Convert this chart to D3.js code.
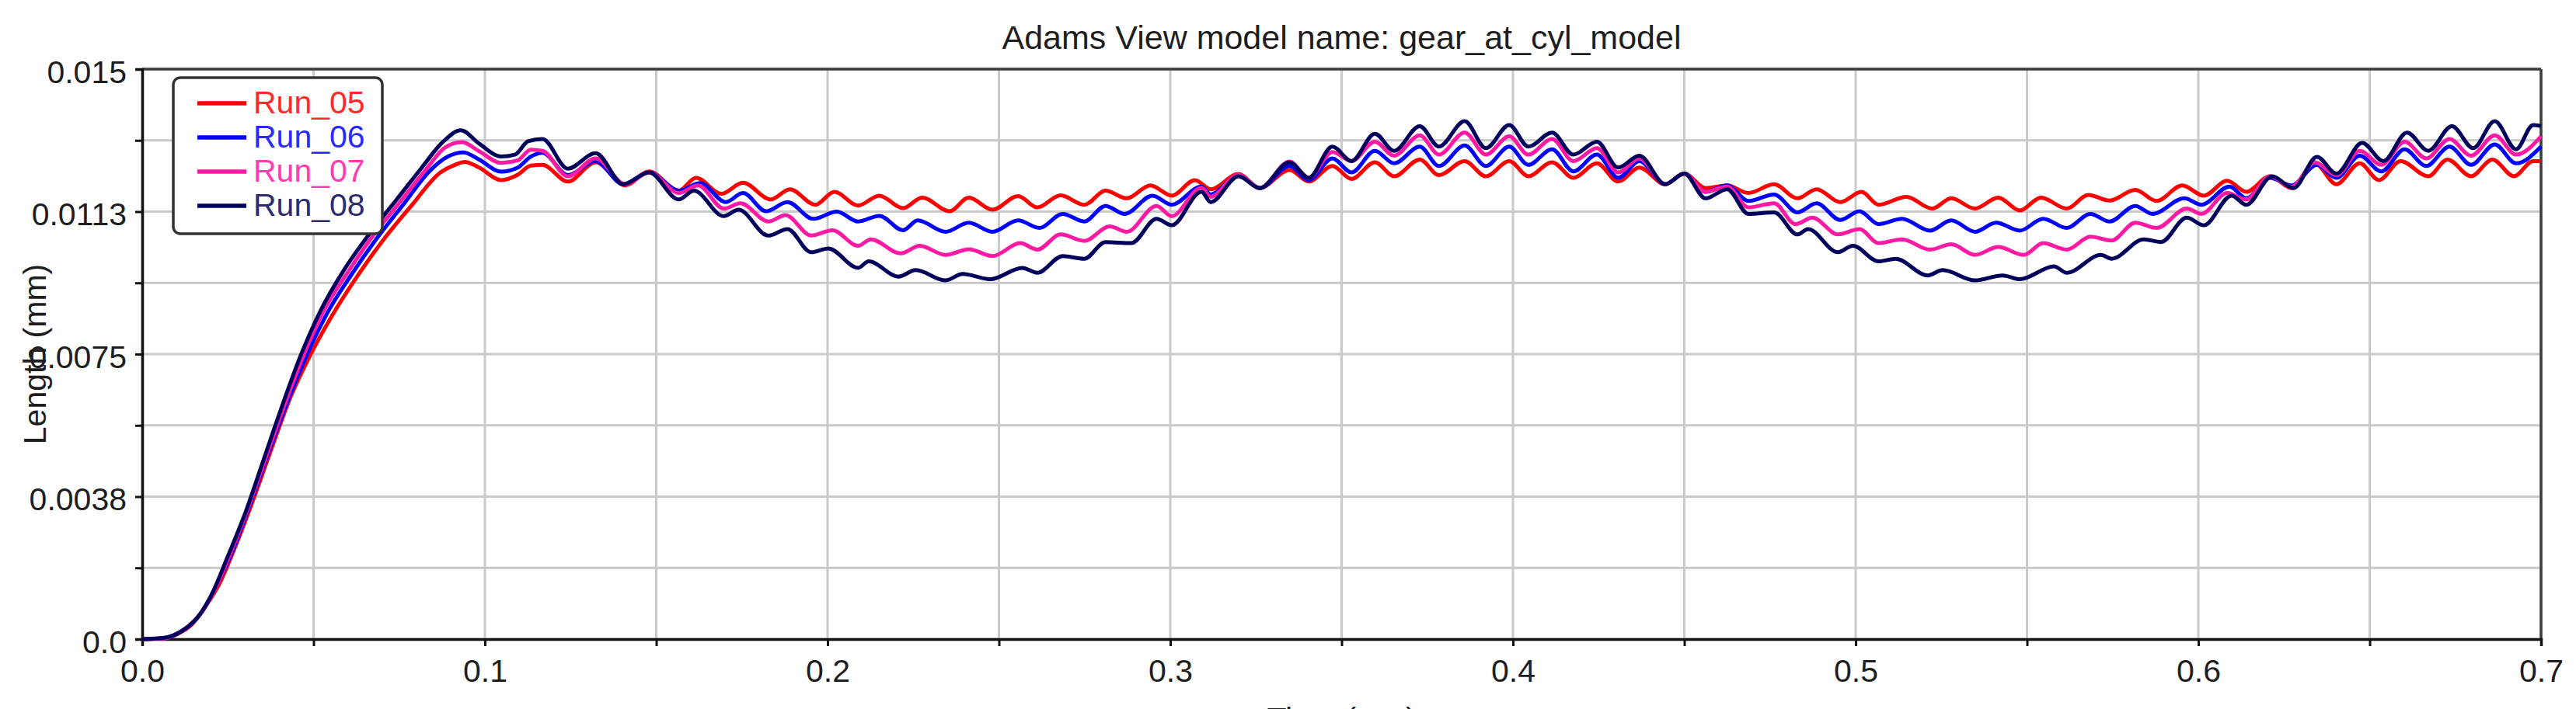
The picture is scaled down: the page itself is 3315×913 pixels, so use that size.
<!DOCTYPE html>
<html>
<head>
<meta charset="utf-8">
<script src="https://cdn.jsdelivr.net/npm/d3@7"></script>
<style>
  html, body { margin: 0; padding: 0; background: #ffffff; }
  svg { display: block; }
  text { font-family: "Liberation Sans", Arial, Helvetica, sans-serif; }
</style>
</head>
<body>
<svg id="chart" width="3315" height="913"></svg>
<script>
// ---------------- DATA ----------------
const chartTitle = "Adams View model name: gear_at_cyl_model";
const xTitle = "Time (sec)";
const yTitle = "Length (mm)";

const seriesNames = ["Run_05", "Run_06", "Run_07", "Run_08"];
const seriesColors = ["#ff0000", "#0000ff", "#ff1aa3", "#00005c"];
const legendTextColors = ["#ff2a2a", "#2a2aff", "#ff3cb0", "#2c2c6e"];

const xTickValues = [0.0, 0.1, 0.2, 0.3, 0.4, 0.5, 0.6, 0.7];
const xTickLabels = ["0.0", "0.1", "0.2", "0.3", "0.4", "0.5", "0.6", "0.7"];
const xGridValues = [0, 0.05, 0.1, 0.15, 0.2, 0.25, 0.3, 0.35, 0.4, 0.45, 0.5, 0.55, 0.6, 0.65, 0.7];
const yTickValues = [0.0, 0.00375, 0.0075, 0.01125, 0.015];
const yTickLabels = ["0.0", "0.0038", "0.0075", "0.0113", "0.015"];
const yGridValues = [0, 0.001875, 0.00375, 0.005625, 0.0075, 0.009375, 0.01125, 0.013125, 0.015];

// [time (sec), length (mm)]
const run05 = [
  [0,0],[0.0068,0.00002],[0.0106,0.00015],[0.0144,0.00038],[0.0181,0.00081],[0.0227,0.00149],[0.0272,0.00244],
  [0.0325,0.00369],[0.0378,0.00503],[0.0431,0.00633],[0.0488,0.00743],[0.0552,0.00848],[0.0627,0.00954],
  [0.0703,0.0105],[0.0786,0.01141],[0.0869,0.01227],[0.0915,0.01249],[0.0941,0.01256],[0.0983,0.01241],
  [0.1047,0.01208],[0.1096,0.01222],[0.1134,0.01246],[0.1168,0.01248],
  [0.1242,0.01204],[0.1323,0.01255],[0.1410,0.01194],[0.1479,0.01231],[0.1566,0.0118],[0.1616,0.01214],
  [0.1690,0.01172],[0.1753,0.01201],[0.1834,0.01157],[0.1890,0.01184],[0.1964,0.01143],[0.2020,0.01177],
  [0.2089,0.01141],[0.2151,0.01167],[0.2220,0.01134],[0.2276,0.01162],[0.2356,0.01126],[0.2412,0.01162],
  [0.2481,0.0113],[0.2556,0.01166],[0.2612,0.01136],[0.2680,0.01168],[0.2749,0.01143],[0.2811,0.0118],
  [0.2873,0.0116],[0.2942,0.01194],[0.3004,0.01167],[0.3072,0.01208],
  [0.3118,0.01184],[0.3199,0.01224],[0.3261,0.01187],[0.3348,0.01235],[0.3404,0.01204],[0.3473,0.01245],
  [0.3529,0.01211],[0.3597,0.01255],[0.3653,0.01218],[0.3728,0.01262],[0.3784,0.01221],[0.3859,0.01258],
  [0.3921,0.01218],[0.3989,0.01258],[0.4045,0.01218],[0.4114,0.01255],[0.4176,0.01214],[0.4245,0.01252],
  [0.4307,0.01204],[0.4369,0.01241],[0.4444,0.01197],[0.4500,0.01225],[0.4562,0.01187],[0.4625,0.01194],
  [0.4687,0.01174],[0.4762,0.01197],[0.4830,0.0116],[0.4886,0.01184],[0.4955,0.0115],[0.5017,0.01177],
  [0.5067,0.01143],[0.5148,0.01164],[0.5223,0.01133],[0.5279,0.0116],[0.5348,0.01133],[0.5416,0.01162],
  [0.5479,0.01128],[0.5541,0.01162],[0.5616,0.01133],[0.5679,0.01169],[0.5741,0.01154],[0.5816,0.01182],
  [0.5878,0.01153],[0.5953,0.01194],[0.6016,0.01167],[0.6084,0.01206],[0.6140,0.01177],[0.6209,0.01218],
  [0.6272,0.01187],[0.6340,0.01252],[0.6403,0.01197],[0.6471,0.01252],[0.6527,0.01208],[0.6590,0.01258],
  [0.6671,0.01218],[0.6727,0.01262],[0.6796,0.01218],[0.6858,0.01262],[0.6921,0.01218],[0.6977,0.01258],
  [0.7,0.01258]
];

const run06 = [
  [0,0],[0.0064,0.00002],[0.0098,0.00012],[0.0136,0.00034],[0.0174,0.00072],[0.0219,0.00144],[0.0265,0.00235],
  [0.0317,0.0036],[0.037,0.00494],[0.0423,0.00623],[0.0478,0.00743],[0.054,0.00858],[0.0612,0.00961],
  [0.0684,0.01054],[0.0763,0.01145],[0.0839,0.01232],[0.0892,0.0127],[0.0937,0.01281],[0.0983,0.01262],
  [0.1047,0.0123],[0.1096,0.01241],[0.1134,0.0127],[0.1168,0.0128],
  [0.1242,0.01221],[0.1323,0.01258],[0.1404,0.01197],[0.1479,0.01228],[0.1566,0.0118],[0.1628,0.012],
  [0.1703,0.0115],[0.1753,0.01174],[0.1821,0.01126],[0.1883,0.0115],[0.1958,0.01106],[0.2027,0.01125],
  [0.2089,0.01099],[0.2151,0.01114],[0.2220,0.01076],[0.2263,0.01102],[0.2344,0.01072],[0.2412,0.01096],
  [0.2481,0.01072],[0.2556,0.01102],[0.2618,0.01082],[0.2686,0.01119],[0.2749,0.01099],[0.2811,0.0114],
  [0.2867,0.01119],[0.2948,0.01167],[0.3004,0.01143],[0.3091,0.01191],
  [0.3118,0.0117],[0.3199,0.01221],[0.3261,0.01187],[0.3348,0.01245],[0.3404,0.01208],[0.3473,0.01265],
  [0.3529,0.01228],[0.3597,0.01285],[0.3653,0.01252],[0.3728,0.01296],[0.3784,0.01245],[0.3859,0.01299],
  [0.3921,0.01245],[0.3989,0.01296],[0.4045,0.01248],[0.4114,0.01289],[0.4176,0.01231],[0.4245,0.01275],
  [0.4307,0.01214],[0.4369,0.01258],[0.4444,0.01197],[0.4500,0.01225],[0.4562,0.01177],[0.4625,0.01194],
  [0.4687,0.01153],[0.4762,0.0117],[0.4830,0.01123],[0.4886,0.01147],[0.4955,0.01103],[0.5011,0.01126],
  [0.5067,0.01092],[0.5135,0.01106],[0.5217,0.01075],[0.5279,0.01102],[0.5348,0.01072],[0.5410,0.01096],
  [0.5479,0.01075],[0.5547,0.01106],[0.5616,0.01082],[0.5685,0.01119],[0.5741,0.01099],[0.5816,0.0114],
  [0.5866,0.01119],[0.5959,0.0116],[0.6009,0.01143],[0.6091,0.01191],[0.6140,0.0116],[0.6209,0.01214],
  [0.6272,0.01194],[0.6346,0.01248],[0.6403,0.01214],[0.6471,0.01272],[0.6534,0.01231],[0.6602,0.01289],
  [0.6665,0.01245],[0.6733,0.01296],[0.6796,0.01248],[0.6865,0.01302],[0.6927,0.01252],[0.7,0.01296]
];

const run07 = [
  [0,0],[0.0062,0.00002],[0.0094,0.00011],[0.0132,0.00032],[0.017,0.00067],[0.0212,0.00131],[0.0257,0.00225],
  [0.031,0.00348],[0.0363,0.00484],[0.0416,0.00618],[0.0469,0.00743],[0.0529,0.00863],[0.0601,0.00967],
  [0.0674,0.01062],[0.0752,0.0115],[0.0828,0.01236],[0.0884,0.01294],[0.0933,0.01308],[0.0983,0.01284],
  [0.1047,0.01253],[0.1096,0.0126],[0.1134,0.01288],[0.1168,0.01285],
  [0.1242,0.01218],[0.1323,0.01265],[0.1410,0.01197],[0.1479,0.01228],[0.1566,0.01174],[0.1622,0.01194],
  [0.1697,0.01133],[0.1746,0.01147],[0.1827,0.01099],[0.1877,0.01116],[0.1952,0.01062],[0.2014,0.01076],
  [0.2089,0.01035],[0.2126,0.01052],[0.2213,0.01015],[0.2269,0.01035],[0.2344,0.01011],[0.2412,0.01026],
  [0.2481,0.01008],[0.2562,0.01042],[0.2612,0.01025],[0.2680,0.01065],[0.2749,0.01048],[0.2823,0.01086],
  [0.2873,0.01072],[0.2960,0.0114],[0.3004,0.01113],[0.3091,0.01188],
  [0.3118,0.01164],[0.3199,0.01222],[0.3261,0.01187],[0.3348,0.01257],[0.3404,0.01214],[0.3473,0.01282],
  [0.3529,0.01258],[0.3597,0.01309],[0.3653,0.01272],[0.3728,0.01326],[0.3784,0.01275],[0.3859,0.01333],
  [0.3921,0.01275],[0.3989,0.01323],[0.4045,0.01275],[0.4114,0.01316],[0.4176,0.01258],[0.4245,0.01292],
  [0.4307,0.01228],[0.4369,0.01265],[0.4444,0.01197],[0.4500,0.01225],[0.4562,0.01177],[0.4625,0.01191],
  [0.4687,0.01136],[0.4762,0.01147],[0.4824,0.01092],[0.4874,0.01109],[0.4948,0.01065],[0.5011,0.01079],
  [0.5067,0.01042],[0.5135,0.01052],[0.5217,0.01025],[0.5279,0.01039],[0.5348,0.01011],[0.5416,0.01032],
  [0.5491,0.01011],[0.5547,0.01042],[0.5616,0.01025],[0.5685,0.01059],[0.5747,0.01049],[0.5816,0.01096],
  [0.5878,0.01082],[0.5966,0.01133],[0.6009,0.01119],[0.6084,0.01174],[0.6140,0.01157],[0.6209,0.01218],
  [0.6272,0.0119],[0.6340,0.01255],[0.6403,0.01221],[0.6471,0.01285],[0.6534,0.01248],[0.6602,0.01309],
  [0.6665,0.01265],[0.6733,0.01316],[0.6796,0.01272],[0.6865,0.01326],[0.6927,0.01275],[0.7,0.01323]
];

const run08 = [
  [0,0],[0.006,0.00003],[0.0091,0.0001],[0.0128,0.00029],[0.0166,0.00062],[0.0204,0.0012],[0.0249,0.00216],
  [0.0302,0.00335],[0.0355,0.00474],[0.0408,0.00613],[0.0461,0.00743],[0.0522,0.00867],[0.059,0.00973],
  [0.0665,0.01069],[0.0741,0.01155],[0.0816,0.01241],[0.0877,0.01308],[0.093,0.01339],[0.0983,0.01304],
  [0.1047,0.0127],[0.1088,0.01275],[0.1126,0.0131],[0.1168,0.01316],
  [0.1242,0.01238],[0.1323,0.01279],[0.1404,0.01197],[0.1479,0.01228],[0.1566,0.01157],[0.1610,0.0118],
  [0.1697,0.01113],[0.1740,0.0113],[0.1827,0.01062],[0.1883,0.01079],[0.1952,0.01018],[0.2002,0.01028],
  [0.2089,0.00977],[0.2120,0.00994],[0.2207,0.00954],[0.2257,0.00971],[0.2344,0.00944],[0.2394,0.00961],
  [0.2475,0.00947],[0.2568,0.00977],[0.2612,0.00964],[0.2686,0.01008],[0.2749,0.01001],[0.2811,0.01045],
  [0.2886,0.01042],[0.2960,0.01106],[0.3004,0.01089],[0.3091,0.01177],
  [0.3118,0.0115],[0.3199,0.01218],[0.3261,0.01187],[0.3348,0.01255],[0.3404,0.01214],[0.3473,0.01296],
  [0.3529,0.01258],[0.3597,0.0133],[0.3653,0.01285],[0.3728,0.0135],[0.3784,0.01296],[0.3859,0.01363],
  [0.3921,0.01292],[0.3989,0.01353],[0.4045,0.01296],[0.4114,0.01333],[0.4176,0.01275],[0.4245,0.01309],
  [0.4307,0.01241],[0.4369,0.01272],[0.4444,0.01197],[0.4500,0.01225],[0.4562,0.0116],[0.4625,0.01184],
  [0.4687,0.01119],[0.4762,0.01123],[0.4830,0.01065],[0.4861,0.01079],[0.4948,0.01018],[0.4992,0.01035],
  [0.5067,0.00994],[0.5117,0.01001],[0.5210,0.00957],[0.5254,0.00971],[0.5348,0.00944],[0.5429,0.00957],
  [0.5479,0.00947],[0.5579,0.00981],[0.5616,0.00964],[0.5716,0.01011],[0.5747,0.01001],[0.5841,0.01052],
  [0.5891,0.01045],[0.5966,0.01109],[0.6016,0.01089],[0.6097,0.01167],[0.6140,0.01143],[0.6215,0.01218],
  [0.6278,0.01187],[0.6346,0.01269],[0.6403,0.01225],[0.6478,0.01306],[0.6540,0.01258],[0.6609,0.01333],
  [0.6671,0.01285],[0.6740,0.0135],[0.6802,0.01292],[0.6865,0.01363],[0.6927,0.01289],[0.6977,0.01353],
  [0.7,0.0135]
];

const seriesData = [run05, run06, run07, run08];

// ---------------- DRAWING ----------------
const W = 3315, H = 913;
const plot = { left: 183, right: 3270, top: 89, bottom: 823 };
const svg = d3.select("#chart");

const x = d3.scaleLinear().domain([0, 0.7]).range([plot.left, plot.right]);
const y = d3.scaleLinear().domain([0, 0.015]).range([plot.bottom, plot.top]);

// gridlines
const gridG = svg.append("g");
gridG.selectAll("line.vg").data(xGridValues).join("line")
  .attr("x1", d => x(d)).attr("x2", d => x(d))
  .attr("y1", plot.top).attr("y2", plot.bottom)
  .attr("stroke", "#cacaca").attr("stroke-width", 3);
gridG.selectAll("line.hg").data(yGridValues).join("line")
  .attr("x1", plot.left).attr("x2", plot.right)
  .attr("y1", d => y(d)).attr("y2", d => y(d))
  .attr("stroke", "#cacaca").attr("stroke-width", 3);

// frame (top & right)
svg.append("line").attr("x1", plot.left).attr("x2", plot.right)
  .attr("y1", plot.top).attr("y2", plot.top)
  .attr("stroke", "#3c3c3c").attr("stroke-width", 3.5);
svg.append("line").attr("x1", plot.right).attr("x2", plot.right)
  .attr("y1", plot.top).attr("y2", plot.bottom)
  .attr("stroke", "#3c3c3c").attr("stroke-width", 3.5);

// y axis
const yAxis = d3.axisLeft(y)
  .tickValues(yGridValues)
  .tickSize(9).tickPadding(11)
  .tickFormat(d => {
    const i = yTickValues.findIndex(v => Math.abs(v - d) < 1e-9);
    return i >= 0 ? yTickLabels[i] : "";
  });
const yG = svg.append("g").attr("transform", `translate(${plot.left},0)`).call(yAxis);
yG.select(".domain").attr("stroke", "#111").attr("stroke-width", 3.5);
yG.selectAll(".tick line").attr("stroke", "#111").attr("stroke-width", 3);
yG.selectAll(".tick text").attr("font-size", 41).attr("fill", "#1e1e1e")
  .attr("font-family", "'Liberation Sans', Arial, sans-serif").attr("dy", "0.42em");

// x axis
const xAxis = d3.axisBottom(x)
  .tickValues(xGridValues)
  .tickSize(9).tickPadding(17)
  .tickFormat(d => {
    const i = xTickValues.findIndex(v => Math.abs(v - d) < 1e-9);
    return i >= 0 ? xTickLabels[i] : "";
  });
const xG = svg.append("g").attr("transform", `translate(0,${plot.bottom})`).call(xAxis);
xG.select(".domain").attr("stroke", "#111").attr("stroke-width", 3.5);
xG.selectAll(".tick line").attr("stroke", "#111").attr("stroke-width", 3);
xG.selectAll(".tick text").attr("font-size", 41).attr("fill", "#1e1e1e")
  .attr("font-family", "'Liberation Sans', Arial, sans-serif");

// series lines
const line = d3.line().x(d => x(d[0])).y(d => y(d[1])).curve(d3.curveMonotoneX);
svg.append("g").selectAll("path").data(seriesData).join("path")
  .attr("d", d => line(d))
  .attr("fill", "none")
  .attr("stroke", (d, i) => seriesColors[i])
  .attr("stroke-width", 5)
  .attr("stroke-linejoin", "round");

// titles
svg.append("text").attr("x", (plot.left + plot.right) / 2).attr("y", 63)
  .attr("text-anchor", "middle").attr("font-size", 43).attr("fill", "#1e1e1e")
  .text(chartTitle);
svg.append("text")
  .attr("transform", `translate(59,${(plot.top + plot.bottom) / 2}) rotate(-90)`)
  .attr("text-anchor", "middle").attr("font-size", 41).attr("fill", "#1e1e1e")
  .text(yTitle);
svg.append("text").attr("x", (plot.left + plot.right) / 2).attr("y", 940)
  .attr("text-anchor", "middle").attr("font-size", 41).attr("fill", "#1e1e1e")
  .text(xTitle);

// legend
const lg = svg.append("g");
lg.append("rect").attr("x", 223).attr("y", 100).attr("width", 269).attr("height", 201)
  .attr("rx", 9).attr("ry", 9)
  .attr("fill", "#ffffff").attr("stroke", "#333333").attr("stroke-width", 3.5);
const items = lg.selectAll("g.item").data(seriesNames).join("g")
  .attr("transform", (d, i) => `translate(0,${133 + i * 44})`);
items.append("line").attr("x1", 254).attr("x2", 317).attr("y1", 0).attr("y2", 0)
  .attr("stroke", (d, i) => seriesColors[i]).attr("stroke-width", 5.5);
items.append("text").attr("x", 326).attr("y", 13)
  .attr("font-size", 41).attr("fill", (d, i) => legendTextColors[i])
  .text(d => d);
</script>
</body>
</html>
